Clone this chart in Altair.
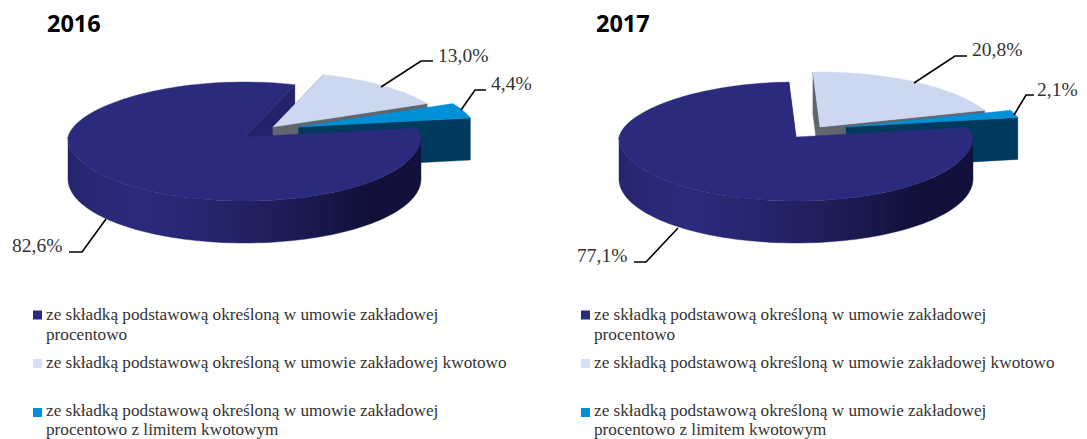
import math
import altair as alt
import pandas as pd

# ---- data ----
years = ["2016", "2017"]
light_values = [13.0, 20.8]
blue_values = [4.4, 2.1]
main_values = [82.6, 77.1]
value_labels = [["13,0%", "4,4%", "82,6%"], ["20,8%", "2,1%", "77,1%"]]
legend_labels = [
    ["ze składką podstawową określoną w umowie zakładowej", "procentowo"],
    ["ze składką podstawową określoną w umowie zakładowej kwotowo"],
    ["ze składką podstawową określoną w umowie zakładowej", "procentowo z limitem kwotowym"],
]

# ---- layout and style (screen pixels) ----
VIEW_W, VIEW_H = 1071, 431
MAIN, LIGHT, BLUE = "#2b2b7e", "#ccd8f0", "#0090d8"
MAIN_SIDE, LIGHT_SIDE, BLUE_SIDE = "#23236a", "#5f6670", "#003a5c"
LEGEND_COLORS = ["#2b2b7e", "#d3e0f8", "#0090d8"]
INK = "#333333"
SERIF = "Liberation Serif"
DEPTH = 42
RY_UP, RY_DOWN = 55, 64
PERSPECTIVE = 0.08

pies = [
    dict(cx=244.5, cy=137, rx=176.5, start=72.0, light_off=(28.5, -10), blue_off=(54, -10),
         title_x=47, legend_dx=0,
         labels=[(438, 62), (491, 90), (12, 252)],
         leaders=[[(381, 87), (421, 61), (433, 61)], [(461, 110), (475, 90), (486, 90)],
                  [(106, 219), (82, 252), (69, 252)]]),
    dict(cx=796, cy=137, rx=177, start=92.5, light_off=(24, -10), blue_off=(50, -10),
         title_x=596, legend_dx=548,
         labels=[(972, 56), (1037, 96), (577, 262)],
         leaders=[[(914, 83), (955, 56), (967, 56)], [(1014, 115), (1026, 95), (1034, 95)],
                  [(678, 228), (646, 262), (634, 262)]]),
]

X = lambda: alt.X("x:Q", scale=alt.Scale(domain=[8, 8 + VIEW_W], nice=False, zero=False), axis=None)
Y = lambda: alt.Y("y:Q", scale=alt.Scale(domain=[8 + VIEW_H, 8], nice=False, zero=False), axis=None)


def ell(p, deg, off=(0, 0), drop=0):
    a = math.radians(deg)
    s = math.sin(a)
    ry = RY_UP if s > 0 else RY_DOWN
    narrow = 1 - PERSPECTIVE * max(s, 0)
    return (p["cx"] + off[0] + p["rx"] * math.cos(a) * narrow, p["cy"] + off[1] - ry * s + drop)


def arc(p, a0, a1, off=(0, 0), drop=0):
    n = max(2, int(abs(a1 - a0) / 2))
    return [ell(p, a0 + (a1 - a0) * i / n, off, drop) for i in range(n + 1)]


def polygon(points, fill):
    pts = list(points) + [points[0]]
    df = pd.DataFrame({"x": [q[0] for q in pts], "y": [q[1] for q in pts], "i": range(len(pts))})
    stroke = fill if isinstance(fill, str) else "#1c1c58"
    return alt.Chart(df).mark_line(fill=fill, stroke=stroke, strokeWidth=0.4, interpolate="linear").encode(
        x=X(), y=Y(), order="i:Q")


def radial_wall(p, deg, off, color):
    apex = (p["cx"] + off[0], p["cy"] + off[1])
    o = ell(p, deg, off)
    return polygon([apex, o, (o[0], o[1] + DEPTH), (apex[0], apex[1] + DEPTH)], color)


def wedge(p, a0, a1, off, color):
    apex = (p["cx"] + off[0], p["cy"] + off[1])
    return polygon([apex] + arc(p, a0, a1, off), color)


wall_gradient = alt.Gradient(
    gradient="linear", x1=0, x2=1, y1=0, y2=0,
    stops=[alt.GradientStop(color="#26266e", offset=0),
           alt.GradientStop(color="#2b2b7e", offset=0.2),
           alt.GradientStop(color="#20205e", offset=0.55),
           alt.GradientStop(color="#10103a", offset=0.85),
           alt.GradientStop(color="#10103a", offset=1)])

layers = []
for k, p in enumerate(pies):
    a0 = p["start"]
    a1 = a0 - light_values[k] * 3.6
    a2 = a1 - blue_values[k] * 3.6
    a3 = a2 - main_values[k] * 3.6
    off0 = (0, 0)
    layers += [
        radial_wall(p, a0, off0, MAIN_SIDE),
        radial_wall(p, a0, p["light_off"], LIGHT_SIDE),
        radial_wall(p, a1, p["light_off"], LIGHT_SIDE),
        wedge(p, a0, a1, p["light_off"], LIGHT),
        radial_wall(p, a2, p["blue_off"], BLUE_SIDE),
        wedge(p, a1, a2, p["blue_off"], BLUE),
        polygon(arc(p, 180, 360) + arc(p, 360, 180, drop=DEPTH), wall_gradient),
        wedge(p, a2, a3, off0, MAIN),
    ]
    # leaders and value labels
    for j, lead in enumerate(p["leaders"]):
        df = pd.DataFrame({"x": [q[0] for q in lead], "y": [q[1] for q in lead], "i": range(len(lead))})
        layers.append(alt.Chart(df).mark_line(color="#000000", strokeWidth=1.6).encode(x=X(), y=Y(), order="i:Q"))
    lab = pd.DataFrame({"x": [q[0] for q in p["labels"]], "y": [q[1] for q in p["labels"]], "t": value_labels[k]})
    layers.append(alt.Chart(lab).mark_text(align="left", baseline="alphabetic", font=SERIF, fontSize=19.5, color=INK)
                  .encode(x=X(), y=Y(), text="t:N"))
    # panel title
    ttl = pd.DataFrame({"x": [p["title_x"]], "y": [32], "t": [years[k]]})
    layers.append(alt.Chart(ttl).mark_text(align="left", baseline="alphabetic", font="Open Sans", fontWeight="bold",
                                           fontSize=23.5, color="#000000").encode(x=X(), y=Y(), text="t:N"))
    # legend
    baselines = [[320, 340], [368], [416, 435]]
    rows = []
    for lines, ys in zip(legend_labels, baselines):
        for t, y in zip(lines, ys):
            rows.append({"x": 46 + p["legend_dx"], "y": y, "t": t})
    layers.append(alt.Chart(pd.DataFrame(rows)).mark_text(align="left", baseline="alphabetic", font=SERIF,
                                                          fontSize=17.2, color=INK).encode(x=X(), y=Y(), text="t:N"))
    sq = pd.DataFrame({"x": [37.5 + p["legend_dx"]] * 3, "y": [315, 363.5, 412.5], "c": LEGEND_COLORS})
    layers.append(alt.Chart(sq).mark_square(size=81, opacity=1).encode(
        x=X(), y=Y(), fill=alt.Fill("c:N", scale=None), stroke=alt.value(None)))

chart = alt.layer(*layers).properties(width=VIEW_W, height=VIEW_H, padding=0, autosize=alt.AutoSizeParams(type="none")).configure_view(stroke=None)
chart.save("out.html", embed_options={"renderer": "svg", "actions": False})
